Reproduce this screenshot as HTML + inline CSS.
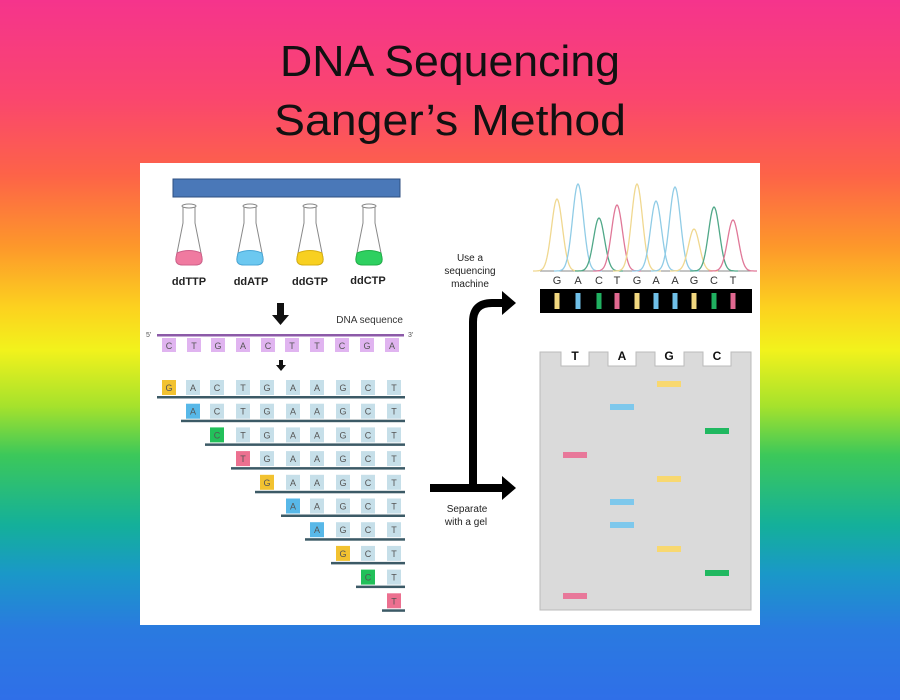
<!DOCTYPE html>
<html><head><meta charset="utf-8"><style>
html,body{margin:0;padding:0;width:900px;height:700px;overflow:hidden}
body{background:linear-gradient(to bottom,#f5348c 0%,#fa466e 14%,#fd6348 25%,#fd962b 35%,#fcd21f 44%,#f2f21c 50%,#a6e22c 58%,#3cc85a 65%,#14b09a 75%,#1a98c8 82%,#2a7ae0 90%,#2f6fe8 100%);font-family:"Liberation Sans",sans-serif}
</style></head><body>
<svg width="900" height="700" viewBox="0 0 900 700" xmlns="http://www.w3.org/2000/svg" font-family="Liberation Sans, sans-serif">
<text x="450" y="76" text-anchor="middle" font-size="44" fill="#111" textLength="340" lengthAdjust="spacingAndGlyphs">DNA Sequencing</text>
<text x="450" y="135" text-anchor="middle" font-size="44" fill="#111" textLength="352" lengthAdjust="spacingAndGlyphs">Sanger’s Method</text>
<rect x="140" y="163" width="620" height="462" fill="#fff"/>
<rect x="173" y="179" width="227" height="18" fill="#4a78b8" stroke="#2f4f80" stroke-width="1"/>
<g id="flasks" stroke="#888" stroke-width="1">
<g transform="translate(189,0)"><path d="M-6,207 L-6,223 L-13,258 Q-14,265 -6,265 L6,265 Q14,265 13,258 L6,223 L6,207" fill="#fff"/><ellipse cx="0" cy="206" rx="7" ry="2" fill="#fff"/><path d="M-12,253 Q0,248 12,253 L13,258 Q14,265 6,265 L-6,265 Q-14,265 -13,258Z" fill="#f07aa0" stroke="#d0608a"/></g>
<g transform="translate(250,0)"><path d="M-6,207 L-6,223 L-13,258 Q-14,265 -6,265 L6,265 Q14,265 13,258 L6,223 L6,207" fill="#fff"/><ellipse cx="0" cy="206" rx="7" ry="2" fill="#fff"/><path d="M-12,253 Q0,248 12,253 L13,258 Q14,265 6,265 L-6,265 Q-14,265 -13,258Z" fill="#6cc8f0" stroke="#4aa8d8"/></g>
<g transform="translate(310,0)"><path d="M-6,207 L-6,223 L-13,258 Q-14,265 -6,265 L6,265 Q14,265 13,258 L6,223 L6,207" fill="#fff"/><ellipse cx="0" cy="206" rx="7" ry="2" fill="#fff"/><path d="M-12,253 Q0,248 12,253 L13,258 Q14,265 6,265 L-6,265 Q-14,265 -13,258Z" fill="#f8d020" stroke="#d8b010"/></g>
<g transform="translate(369,0)"><path d="M-6,207 L-6,223 L-13,258 Q-14,265 -6,265 L6,265 Q14,265 13,258 L6,223 L6,207" fill="#fff"/><ellipse cx="0" cy="206" rx="7" ry="2" fill="#fff"/><path d="M-12,253 Q0,248 12,253 L13,258 Q14,265 6,265 L-6,265 Q-14,265 -13,258Z" fill="#2ed060" stroke="#20b048"/></g>
</g>
<g font-size="11" font-weight="bold" fill="#222" text-anchor="middle">
<text x="189" y="285">ddTTP</text><text x="251" y="285">ddATP</text><text x="310" y="285">ddGTP</text><text x="368" y="284">ddCTP</text></g>
<path d="M277,303 h7 v12 h5 l-8.5,10 l-8.5,-10 h5z" fill="#111"/>
<text x="403" y="323" text-anchor="end" font-size="10" fill="#333">DNA sequence</text>
<text x="146" y="337" font-size="7" fill="#555">5'</text><text x="408" y="337" font-size="7" fill="#555">3'</text>
<rect x="157" y="334" width="247" height="2.5" fill="#8c5aa8"/>
<g font-size="9" fill="#555" text-anchor="middle">
<rect x="162" y="338" width="14" height="14" fill="#e0b4f0"/><text x="169" y="349">C</text>
<rect x="187" y="338" width="14" height="14" fill="#e0b4f0"/><text x="194" y="349">T</text>
<rect x="211" y="338" width="14" height="14" fill="#e0b4f0"/><text x="218" y="349">G</text>
<rect x="236" y="338" width="14" height="14" fill="#e0b4f0"/><text x="243" y="349">A</text>
<rect x="261" y="338" width="14" height="14" fill="#e0b4f0"/><text x="268" y="349">C</text>
<rect x="285" y="338" width="14" height="14" fill="#e0b4f0"/><text x="292" y="349">T</text>
<rect x="310" y="338" width="14" height="14" fill="#e0b4f0"/><text x="317" y="349">T</text>
<rect x="335" y="338" width="14" height="14" fill="#e0b4f0"/><text x="342" y="349">C</text>
<rect x="360" y="338" width="14" height="14" fill="#e0b4f0"/><text x="367" y="349">G</text>
<rect x="385" y="338" width="14" height="14" fill="#e0b4f0"/><text x="392" y="349">A</text>
</g>
<path d="M279,360 h4 v5 h3 l-5,6 l-5,-6 h3z" fill="#111"/>
<g id="rows" font-size="9" fill="#555" text-anchor="middle"></g>
<path d="M473,488 V322 Q473,303 492,303 H503" fill="none" stroke="#000" stroke-width="8"/>
<path d="M502,291 L516,303 L502,315Z" fill="#000"/>
<path d="M430,488 H503" fill="none" stroke="#000" stroke-width="8"/>
<path d="M502,476 L516,488 L502,500Z" fill="#000"/>
<g font-size="10" fill="#222" text-anchor="middle">
<text x="470" y="261">Use a</text><text x="470" y="274">sequencing</text><text x="470" y="287">machine</text>
<text x="467" y="512">Separate</text><text x="466" y="525">with a gel</text></g>
<line x1="540" y1="271" x2="752" y2="271" stroke="#888" stroke-width="1"/>
<g id="peaks" fill="none" stroke-width="1.3"></g>
<g font-size="11" fill="#333" text-anchor="middle">
<text x="557" y="284">G</text><text x="578" y="284">A</text><text x="599" y="284">C</text><text x="617" y="284">T</text><text x="637" y="284">G</text><text x="656" y="284">A</text><text x="675" y="284">A</text><text x="694" y="284">G</text><text x="714" y="284">C</text><text x="733" y="284">T</text></g>
<rect x="540" y="289" width="212" height="24" fill="#000"/>
<g id="bars"></g>
<path d="M540,352 H561 V366 H589 V352 H608 V366 H636 V352 H655 V366 H684 V352 H703 V366 H731 V352 H751 V610 H540Z" fill="#dadada" stroke="#bbb" stroke-width="1"/>
<g font-size="12" font-weight="bold" fill="#111" text-anchor="middle">
<text x="575" y="360">T</text><text x="622" y="360">A</text><text x="669" y="360">G</text><text x="717" y="360">C</text></g>
<g id="bands"></g>
</svg>
<script>
var ns="http://www.w3.org/2000/svg";
function el(p,t,a,txt){var e=document.createElementNS(ns,t);for(var k in a)e.setAttribute(k,a[k]);if(txt)e.textContent=txt;p.appendChild(e);return e;}
var seq="GACTGAAGCT",xs=[169,193,217,243,267,293,317,343,368,394];
var col={G:"#f2c230",A:"#58b8e8",C:"#22c05a",T:"#ec7090"};
var rows=document.getElementById("rows");
for(var k=0;k<10;k++){var cy=387+k*23.7;
 el(rows,"rect",{x:xs[k]-12,y:cy+9,width:405-(xs[k]-12),height:2.5,fill:"#3c5a66"});
 for(var i=k;i<10;i++){el(rows,"rect",{x:xs[i]-7,y:cy-7,width:14,height:15,fill:i==k?col[seq[i]]:"#c6dfe9"});
  el(rows,"text",{x:xs[i],y:cy+4},seq[i]);}}
var pk=document.getElementById("peaks"),px=[557,578,599,617,637,656,675,694,714,733],py=[199,184,218,205,184,201,187,229,207,220];
var pc={G:"#f0d890",A:"#90cce6",C:"#50a888",T:"#e07898"};
for(var i=0;i<10;i++){var d="";for(var t=-24;t<=24;t++){var x=px[i]+t,y=271-(271-py[i])*Math.exp(-t*t/(2*30));d+=(t==-24?"M":"L")+x+","+y.toFixed(1);}
 el(pk,"path",{d:d,stroke:pc[seq[i]]});}
var bars=document.getElementById("bars");
var bc={G:"#f2d880",A:"#70c0e8",C:"#20b060",T:"#e06890"};
for(var i=0;i<10;i++)el(bars,"rect",{x:px[i]-2.5,y:293,width:5,height:16,fill:bc[seq[i]]});
var bands=document.getElementById("bands"),lx={T:575,A:622,G:669,C:717},by=[384,407,431,455,479,502,525,549,573,596];
var gc={G:"#f8d870",A:"#7ec8ec",C:"#20b860",T:"#e8789a"};
for(var i=0;i<10;i++)el(bands,"rect",{x:lx[seq[i]]-12,y:by[i]-3,width:24,height:6,fill:gc[seq[i]]});
</script>
</body></html>
